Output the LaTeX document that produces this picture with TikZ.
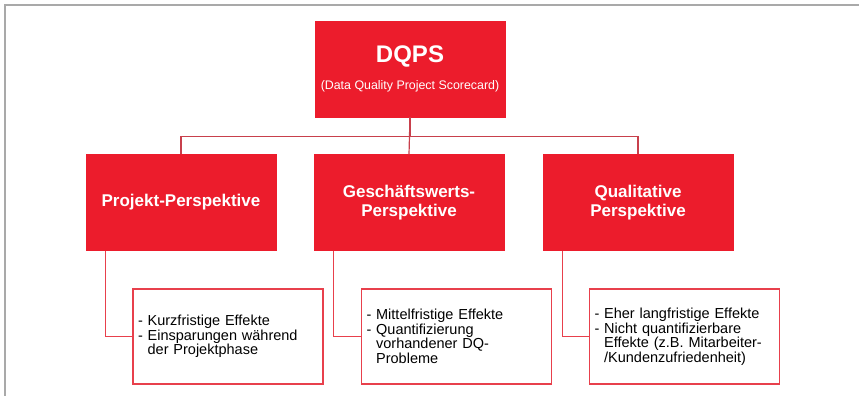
\documentclass[tikz,border=0pt]{standalone}
\usepackage{fontspec}
\setmainfont{Liberation Sans}
\usepackage{xcolor}
\usepackage{tikz}

\definecolor{dqred}{HTML}{EC1C2C}
\definecolor{dqline}{HTML}{C8404C}
\definecolor{dqedge}{HTML}{E8404C}
\definecolor{dqframe}{HTML}{A9A9A9}

\begin{document}
\begin{tikzpicture}[x=1pt,y=-1pt]
	\tikzstyle{every node}+=[inner sep=0pt]
	\tikzstyle{redbox}=[fill=dqred,draw=dqred,minimum width=190pt,minimum height=96pt,text=white,align=center,font=\fontsize{17}{18.5}\selectfont\bfseries]
	\tikzstyle{notebox}=[draw=dqedge,line width=1.3pt,fill=white,minimum height=95pt,text width=180pt,inner xsep=5pt,align=left,font=\fontsize{14.5}{14.5}\selectfont]
	\tikzstyle{bus}=[draw=dqline,line width=1.2pt]
	\useasboundingbox (0,0) rectangle (859,396);
	\draw [dqframe,line width=2pt] (5,396) -- (5,5) -- (859,5);
	\node [redbox] (dqps) at (410,69) {{\fontsize{24}{28}\selectfont DQPS}\\[8pt]{\fontsize{12.4}{14}\selectfont\mdseries (Data Quality Project Scorecard)}};
	\node [redbox] (proj) at (181,202.5) {Projekt-Perspektive};
	\node [redbox] (gesch) at (409,202.5) {Geschäftswerts-\\Perspektive};
	\node [redbox] (quali) at (638,202.5) {Qualitative\\Perspektive};
	\node [notebox] (kurz) at (228,336.5) {- Kurzfristige Effekte\\- Einsparungen während\\\hphantom{- }der Projektphase};
	\node [notebox] (mittel) at (456.5,336.5) {- Mittelfristige Effekte\\- Quantifizierung\\\hphantom{- }vorhandener DQ-\\\hphantom{- }Probleme};
	\node [notebox] (lang) at (684.5,336.5) {- Eher langfristige Effekte\\- Nicht quantifizierbare\\\hphantom{- }Effekte (z.B. Mitarbeiter-\\\hphantom{- }/Kundenzufriedenheit)};
	\draw [bus] (dqps.south) -- ++(0,19) -| (proj.north);
	\draw [bus] (dqps.south) -- ++(0,19) -| (quali.north);
	\draw [bus] (dqps.south) -- (gesch.north);
	\draw [bus,draw=dqedge] ([xshift=20pt]proj.south west) |- (kurz.west);
	\draw [bus,draw=dqedge] ([xshift=20pt]gesch.south west) |- (mittel.west);
	\draw [bus,draw=dqedge] ([xshift=20pt]quali.south west) |- (lang.west);
\end{tikzpicture}
\end{document}
